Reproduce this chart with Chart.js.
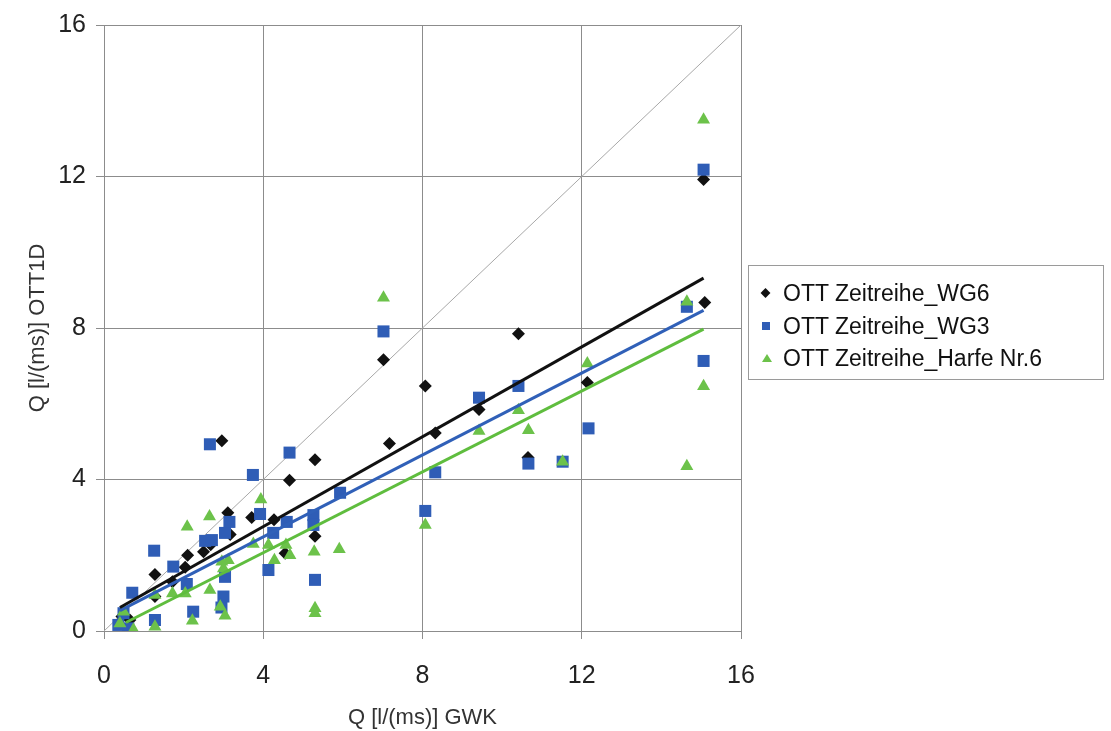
<!DOCTYPE html>
<html>
<head>
<meta charset="utf-8">
<script src="https://cdn.jsdelivr.net/npm/chart.js@4.4.1/dist/chart.umd.min.js"></script>
<style>
	html, body { margin: 0; padding: 0; background: #fff; }
	#wrap { position: relative; width: 1111px; height: 731px; }
	#legend {
		position: absolute; left: 748px; top: 265px; width: 356px; height: 115px;
		border: 1px solid #9a9a9a; box-sizing: border-box;
		font-family: "Liberation Sans", Arial, sans-serif; font-size: 23px; color: #111;
		padding-top: 11px;
	}
	.leg-row { height: 32.5px; line-height: 32.5px; white-space: nowrap; position: relative; padding-left: 34px; }
	.leg-mark { position: absolute; left: 13px; top: 50%; }
</style>
</head>
<body>
<div id="wrap">
	<canvas id="chart" width="1111" height="731"></canvas>
	<div id="legend">
		<div class="leg-row"><span class="leg-mark" style="width:7px;height:7px;background:#111;transform:translate(0,-50%) rotate(45deg);"></span>OTT Zeitreihe_WG6</div>
		<div class="leg-row"><span class="leg-mark" style="width:8px;height:8px;background:#2f5db6;transform:translate(0,-50%);"></span>OTT Zeitreihe_WG3</div>
		<div class="leg-row"><span class="leg-mark" style="width:0;height:0;border-left:5px solid transparent;border-right:5px solid transparent;border-bottom:8px solid #6cc24a;transform:translate(0,-50%);"></span>OTT Zeitreihe_Harfe Nr.6</div>
	</div>
</div>
<script>
// values, Q in l/(ms)
const wg6X = [0.45, 0.65, 1.28, 1.28, 1.72, 2.04, 2.10, 2.50, 2.68, 2.96, 3.11, 3.17, 3.71, 4.27, 4.55, 4.66, 5.30, 5.30, 7.02, 7.17, 8.07, 8.32, 9.42, 10.41, 10.65, 12.14, 15.06, 15.09];
const wg6Y = [0.38, 0.29, 0.91, 1.49, 1.30, 1.68, 2.00, 2.09, 2.28, 5.02, 3.12, 2.55, 3.00, 2.94, 2.05, 3.98, 4.52, 2.50, 7.16, 4.95, 6.47, 5.23, 5.85, 7.85, 4.58, 6.56, 11.92, 8.67];

const wg3X = [0.36, 0.49, 0.61, 0.71, 1.26, 1.28, 1.74, 2.08, 2.24, 2.54, 2.66, 2.71, 2.95, 3.00, 3.04, 3.04, 3.15, 3.74, 3.92, 4.13, 4.25, 4.59, 4.66, 5.26, 5.26, 5.30, 5.93, 7.02, 8.07, 8.32, 9.42, 10.41, 10.66, 11.52, 12.17, 14.64, 15.06, 15.06];
const wg3Y = [0.16, 0.47, 0.07, 1.01, 2.12, 0.29, 1.70, 1.24, 0.51, 2.38, 4.93, 2.40, 0.62, 0.91, 1.43, 2.59, 2.88, 4.12, 3.09, 1.61, 2.59, 2.88, 4.71, 3.06, 2.80, 1.35, 3.65, 7.91, 3.17, 4.19, 6.16, 6.47, 4.42, 4.47, 5.35, 8.56, 12.18, 7.13];

const harfeX = [0.40, 0.49, 0.74, 1.28, 1.28, 1.72, 2.04, 2.09, 2.22, 2.65, 2.66, 2.92, 2.96, 3.00, 3.04, 3.12, 3.75, 3.94, 4.13, 4.28, 4.57, 4.67, 5.28, 5.30, 5.30, 5.91, 7.02, 8.07, 9.42, 10.41, 10.66, 11.52, 12.14, 14.64, 14.64, 15.06, 15.06];
const harfeY = [0.20, 0.51, 0.03, 0.95, 0.11, 0.99, 0.99, 2.75, 0.27, 3.02, 1.08, 0.64, 1.83, 1.65, 0.40, 1.87, 2.30, 3.47, 2.27, 1.87, 2.27, 2.00, 2.09, 0.60, 0.47, 2.16, 8.80, 2.80, 5.28, 5.83, 5.30, 4.47, 7.06, 4.35, 8.69, 13.50, 6.46];

// linear trend lines (slope, intercept, x range) as drawn in the reference
const trendSlope = [0.593, 0.541, 0.534];
const trendIntercept = [0.385, 0.32, -0.07];
const trendFrom = [0.40, 0.40, 0.55];
const trendTo = [15.06, 15.06, 15.06];

const seriesNames = ['OTT Zeitreihe_WG6', 'OTT Zeitreihe_WG3', 'OTT Zeitreihe_Harfe Nr.6'];
const axisTicks = [0, 4, 8, 12, 16];
const identityLine = [0, 16];

const FONT = '"Liberation Sans", Arial, sans-serif';

function toPoints(xs, ys) {
	return xs.map((x, i) => ({ x, y: ys[i] }));
}

function trendPoints(i) {
	return [trendFrom[i], trendTo[i]].map((x) => ({ x, y: trendIntercept[i] + trendSlope[i] * x }));
}

const colors = ['#111111', '#2f5db6', '#6cc24a'];
const lineColors = ['#111111', '#3060b8', '#5fbd3e'];

const pointSets = [
	{ data: toPoints(wg6X, wg6Y), style: 'rectRot', radius: 6.5 },
	{ data: toPoints(wg3X, wg3Y), style: 'rect', radius: 8.5 },
	{ data: toPoints(harfeX, harfeY), style: 'triangle', radius: 7.5 },
];

const datasets = [];

datasets.push({
	label: '1:1',
	data: identityLine.map((v) => ({ x: v, y: v })),
	showLine: true,
	borderColor: '#a8a8a8',
	borderWidth: 1,
	pointRadius: 0,
	order: 10,
});

pointSets.forEach((s, i) => {
	datasets.push({
		label: seriesNames[i],
		data: s.data,
		pointStyle: s.style,
		pointRadius: s.radius,
		backgroundColor: colors[i],
		borderColor: colors[i],
		borderWidth: 0,
		showLine: false,
		order: 3 - i,
	});
});

[0, 1, 2].forEach((i) => {
	datasets.push({
		label: seriesNames[i] + ' trend',
		data: trendPoints(i),
		showLine: true,
		borderColor: lineColors[i],
		borderWidth: 3,
		pointRadius: 0,
		order: 0,
	});
});

const tickOpts = {
	color: '#222',
	font: { family: FONT, size: 25 },
};

new Chart(document.getElementById('chart'), {
	type: 'scatter',
	data: { datasets },
	options: {
		responsive: false,
		animation: false,
		layout: { padding: { left: 0, right: 370, top: 25, bottom: 0 } },
		plugins: { legend: { display: false }, tooltip: { enabled: false } },
		scales: {
			x: {
				type: 'linear',
				min: 0,
				max: 16,
				afterBuildTicks: (s) => { s.ticks = axisTicks.map((v) => ({ value: v })); },
				afterFit: (s) => { s.height = 100; },
				ticks: { ...tickOpts, padding: 22 },
				grid: { color: '#8c8c8c', lineWidth: 1, tickLength: 8 },
				border: { color: '#8c8c8c' },
				title: { display: true, text: 'Q [l/(ms)] GWK', color: '#333', font: { family: FONT, size: 22 }, padding: { top: 4, bottom: 0 } },
			},
			y: {
				type: 'linear',
				min: 0,
				max: 16,
				afterBuildTicks: (s) => { s.ticks = axisTicks.map((v) => ({ value: v })); },
				afterFit: (s) => { s.width = 104; },
				ticks: { ...tickOpts, padding: 10 },
				grid: { color: '#8c8c8c', lineWidth: 1, tickLength: 8 },
				border: { color: '#8c8c8c' },
				title: { display: true, text: 'Q [l/(ms)] OTT1D', color: '#333', font: { family: FONT, size: 22 }, padding: { top: 25, bottom: 0 } },
			},
		},
	},
});
</script>
</body>
</html>
